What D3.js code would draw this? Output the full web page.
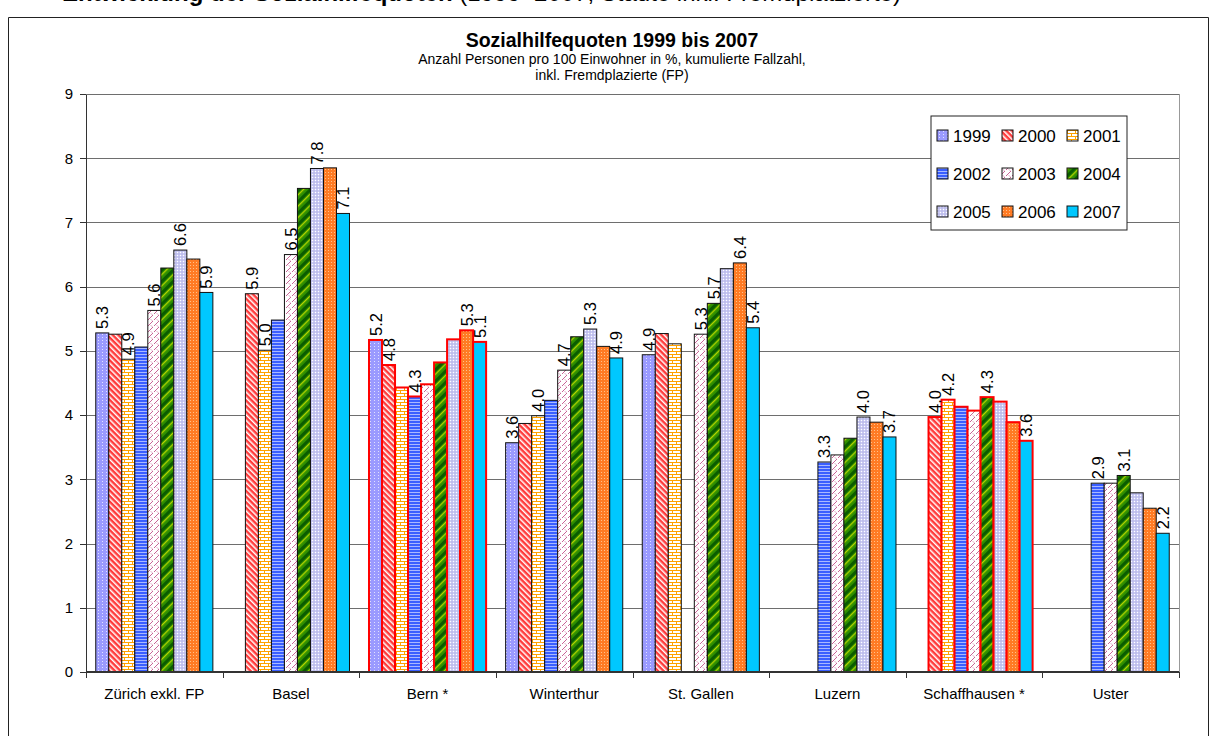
<!DOCTYPE html>
<meta charset="utf-8">
<title>Sozialhilfequoten 1999 bis 2007</title>
<style>
body {
  margin: 0;
  padding: 0;
  background: #fff;
  font-family: 'Liberation Sans', Arial, sans-serif;
}
.grid line {
  stroke: #6e6e6e;
  shape-rendering: crispEdges;
}
.axis path,
.axis line {
  stroke: #333;
  shape-rendering: crispEdges;
}
.axis text {
  fill: #000;
}
</style>
<body>
<svg width="1224" height="736"></svg>
<script src="https://cdn.jsdelivr.net/npm/d3@7"></script>
<script>
// ---- data ----
var categories = ["Zürich exkl. FP", "Basel", "Bern *", "Winterthur", "St. Gallen", "Luzern", "Schaffhausen *", "Uster"];
var years = ["1999", "2000", "2001", "2002", "2003", "2004", "2005", "2006", "2007"];

var q1999 = [5.28, null, 5.17, 3.57, 4.94, null, null, null];
var q2000 = [5.26, 5.89, 4.78, 3.87, 5.27, null, 3.97, null];
var q2001 = [4.87, 5.01, 4.43, 3.99, 5.11, null, 4.24, null];
var q2002 = [5.06, 5.48, 4.29, 4.23, null, 3.27, 4.13, 2.94];
var q2003 = [5.63, 6.50, 4.48, 4.70, 5.26, 3.38, 4.07, 2.94];
var q2004 = [6.29, 7.53, 4.82, 5.22, 5.74, 3.64, 4.28, 3.06];
var q2005 = [6.57, 7.84, 5.18, 5.34, 6.28, 3.97, 4.21, 2.79];
var q2006 = [6.43, 7.85, 5.32, 5.07, 6.37, 3.89, 3.89, 2.55];
var q2007 = [5.91, 7.14, 5.14, 4.89, 5.36, 3.66, 3.60, 2.16];

// which years carry a value label, per city (index into years)
var labelled = [[0, 2, 4, 6, 8], [1, 2, 4, 6, 8], [0, 1, 3, 7, 8], [0, 2, 4, 6, 8],
                [0, 4, 5, 7, 8], [3, 6, 8], [1, 2, 5, 8], [3, 5, 8]];
// cities drawn with red outline
var redOutline = ["Bern *", "Schaffhausen *"];
var yTicks = [0, 1, 2, 3, 4, 5, 6, 7, 8, 9];

var series = [q1999, q2000, q2001, q2002, q2003, q2004, q2005, q2006, q2007];

var rows = [];
categories.forEach(function(c, ci) {
  years.forEach(function(yr, yi) {
    var v = series[yi][ci];
    if (v != null) rows.push({city: c, ci: ci, year: yr, yi: yi, value: v,
                              label: labelled[ci].indexOf(yi) >= 0});
  });
});

var svg = d3.select("svg");
var margin = {top: 94, left: 86, right: 45, bottom: 64};
var W = 1224, H = 736;

var x0 = d3.scaleBand().domain(categories).range([margin.left, W - margin.right]);
var x1 = d3.scaleBand().domain(years).range([0, x0.bandwidth()]).paddingOuter(0.75);
var y = d3.scaleLinear().domain([0, 9]).range([672, 94]);

// ---- patterns ----
var defs = svg.append("defs");
function pattern(id, w, h, bg, rot) {
  var p = defs.append("pattern").attr("id", id)
    .attr("patternUnits", "userSpaceOnUse").attr("width", w).attr("height", h);
  if (rot) p.attr("patternTransform", "rotate(" + rot + ")");
  p.append("rect").attr("width", w).attr("height", h).attr("fill", bg);
  return p;
}
var p;
p = pattern("p1999", 4, 3, "#9a9aff");
p.append("rect").attr("x", 2).attr("y", 1).attr("width", 1).attr("height", 1).attr("fill", "#e0e0ff");
p = pattern("p2000", 4, 4, "#ff3b3b", -45);
p.append("rect").attr("x", 0).attr("y", 0).attr("width", 1.5).attr("height", 4).attr("fill", "#fff");
p = pattern("p2001", 8, 6, "#fff");
p.append("path").attr("d", "M0,0.5H8M0,3.5H8M0.5,0V3M4.5,3V6").attr("stroke", "#ffa200").attr("stroke-width", 1).attr("fill", "none");
p = pattern("p2002", 4, 3, "#3a5fff");
p.append("rect").attr("y", 0).attr("width", 4).attr("height", 1).attr("fill", "#a9b8ff");
p = pattern("p2003", 6, 6, "#fff");
p.append("path").attr("d", "M0,6L3,3M4,2L6,0M1,1.5L2,2.5").attr("stroke", "#c86496").attr("stroke-width", 1).attr("fill", "none");
p = pattern("p2004", 8, 8, "#2f8f00", 45);
p.append("rect").attr("x", 0).attr("width", 3).attr("height", 8).attr("fill", "#0b5c00");
p.append("rect").attr("x", 4).attr("width", 1.2).attr("height", 8).attr("fill", "#b8d400");
p = pattern("p2005", 3, 3, "#cacaf4");
p.append("rect").attr("width", 1).attr("height", 1).attr("fill", "#fff");
p.append("rect").attr("x", 1.5).attr("y", 1.5).attr("width", 1).attr("height", 1).attr("fill", "#9a9ad0");
p = pattern("p2006", 3, 3, "#ff7b24");
p.append("rect").attr("x", 1).attr("y", 1).attr("width", 1).attr("height", 1).attr("fill", "#ffc08a");
p = pattern("p2007", 4, 4, "#00c8ff");

// ---- frame and headings ----
svg.append("text")
  .attr("x", 62).attr("y", 1)
  .attr("font-size", 24).attr("font-weight", "bold")
  .text("Entwicklung der Sozialhilfequoten ")
  .append("tspan").attr("font-weight", "normal")
  .text("(1999–2007, Städte inkl. Fremdplatzierte)");

svg.append("path")
  .attr("d", "M8.5,736V17.5H1208.5V736")
  .attr("fill", "none").attr("stroke", "#222").attr("stroke-width", 1);

svg.append("text")
  .attr("x", 612).attr("y", 47)
  .attr("text-anchor", "middle").attr("font-size", 19.5).attr("font-weight", "bold")
  .text("Sozialhilfequoten 1999 bis 2007");
svg.append("text")
  .attr("x", 612).attr("y", 64)
  .attr("text-anchor", "middle").attr("font-size", 14)
  .text("Anzahl Personen pro 100 Einwohner in %, kumulierte Fallzahl,");
svg.append("text")
  .attr("x", 612).attr("y", 80)
  .attr("text-anchor", "middle").attr("font-size", 14)
  .text("inkl. Fremdplazierte (FP)");

// ---- grid ----
var g = svg.append("g");
g.append("g").attr("class", "grid")
  .selectAll("line").data(yTicks.slice(1)).enter().append("line")
  .attr("x1", margin.left).attr("x2", W - margin.right)
  .attr("y1", function(d) { return Math.round(y(d)) + 0.5; })
  .attr("y2", function(d) { return Math.round(y(d)) + 0.5; });
g.append("line")
  .attr("x1", W - margin.right + 0.5).attr("x2", W - margin.right + 0.5)
  .attr("y1", y(9)).attr("y2", y(0))
  .attr("stroke", "#999");

// ---- bars ----
g.append("g").selectAll("rect").data(rows).enter().append("rect")
  .attr("x", function(d) { return x0(d.city) + x1(d.year); })
  .attr("y", function(d) { return y(d.value); })
  .attr("width", x1.bandwidth())
  .attr("height", function(d) { return y(0) - y(d.value); })
  .attr("fill", function(d) { return "url(#p" + d.year + ")"; })
  .attr("stroke", function(d) { return redOutline.indexOf(d.city) >= 0 ? "#ff0000" : "#111"; })
  .attr("stroke-width", function(d) { return redOutline.indexOf(d.city) >= 0 ? 2 : 1; });

// ---- value labels ----
g.append("g").selectAll("text").data(rows.filter(function(d) { return d.label; })).enter().append("text")
  .attr("transform", function(d) {
    return "translate(" + (x0(d.city) + x1(d.year) + x1.bandwidth() / 2 + 6) + "," + (y(d.value) - 4) + ") rotate(-90)";
  })
  .attr("font-size", 16.5)
  .text(function(d) { return d.value.toFixed(1); });

// ---- axes ----
g.append("g").attr("class", "axis")
  .attr("transform", "translate(" + margin.left + ",0)")
  .call(d3.axisLeft(y).tickValues(yTicks).tickSize(6).tickSizeOuter(0).tickPadding(7))
  .selectAll("text").attr("font-size", 15).attr("font-family", "Liberation Sans");

var xa = g.append("g").attr("class", "axis")
  .attr("transform", "translate(0," + y(0) + ")");
xa.append("line").attr("x1", margin.left).attr("x2", W - margin.right).attr("stroke", "#222").attr("stroke-width", 2);
xa.selectAll(".tk").data(categories.concat(["end"])).enter().append("line")
  .attr("class", "tk")
  .attr("x1", function(d, i) { return Math.round(x0.range()[0] + i * x0.step()) + 0.5; })
  .attr("x2", function(d, i) { return Math.round(x0.range()[0] + i * x0.step()) + 0.5; })
  .attr("y1", 0).attr("y2", 6);
xa.selectAll(".cl").data(categories).enter().append("text")
  .attr("class", "cl")
  .attr("x", function(d) { return x0(d) + x0.bandwidth() / 2; })
  .attr("y", 27)
  .attr("text-anchor", "middle").attr("font-size", 15)
  .text(function(d) { return d; });

// ---- legend ----
var leg = svg.append("g").attr("transform", "translate(931,116)");
leg.append("rect").attr("width", 196).attr("height", 114)
  .attr("fill", "#fff").attr("stroke", "#222");
var li = leg.selectAll("g").data(years).enter().append("g")
  .attr("transform", function(d, i) { return "translate(" + (6 + (i % 3) * 65) + "," + (20 + Math.floor(i / 3) * 38) + ")"; });
li.append("rect").attr("x", 0).attr("y", -6).attr("width", 11).attr("height", 11)
  .attr("fill", function(d) { return "url(#p" + d + ")"; })
  .attr("stroke", "#111");
li.append("text").attr("x", 16).attr("y", 6).attr("font-size", 17)
  .text(function(d) { return d; });
</script>
</body>
